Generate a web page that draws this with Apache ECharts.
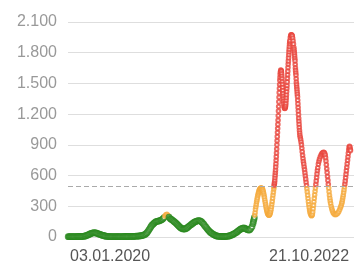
<!DOCTYPE html>
<html>
<head>
<meta charset="utf-8">
<script src="https://cdn.jsdelivr.net/npm/echarts@6/dist/echarts.min.js"></script>
<style>html,body{margin:0;padding:0;background:#fff}#c{width:354px;height:266px}</style>
</head>
<body>
<div id="c"></div>
<script>
// Each point: [days since 03.01.2020, value]
var points = [
[-215,3],[-210,3],[-205,3],[-200,3],[-195,3],[-190,3],[-185,3],[-180,3],[-174,3],[-169,4],[-164,5],[-159,5],[-154,5],[-149,5],[-144,5],[-139,6],[-133,8],[-128,10],[-123,12],[-118,16],[-113,20],[-108,25],[-103,30],[-97,34],[-92,38],[-87,40],[-82,42],[-77,41],[-72,40],[-67,36],[-62,32],[-56,28],[-51,25],[-46,21],[-41,18],[-36,15],[-31,12],[-26,10],[-21,8],[-15,6],[-10,5],[-5,4],
[0,4],[5,4],[10,4],[15,4],[21,4],[26,4],[31,4],[36,4],[41,4],[46,4],[51,4],[56,4],[62,4],[67,4],[72,5],[77,5],[82,5],[87,5],[92,5],[97,5],[103,6],[108,6],[113,6],[118,6],[123,7],[128,7],[133,8],[139,8],[144,9],[149,10],[154,11],[159,12],[164,14],[169,16],[174,20],[180,25],[185,32],[190,42],[195,55],[200,70],[205,85],[210,100],[215,115],[221,125],[226,135],[231,143],[236,150],[241,153],[246,155],[251,157],[257,160],[262,165],[267,170],[272,178],[277,190],[282,205],[287,218],[292,222],[298,210],[303,195],[308,180],[313,174],[318,168],[323,160],[328,152],[333,144],[339,135],[344,125],[349,115],[354,105],[359,95],[364,88],[369,82],[375,79],[380,78],[385,79],[390,82],[395,88],[400,95],[405,104],[410,112],[416,120],[421,128],[426,135],[431,142],[436,148],[441,152],[446,156],[452,160],[457,160],[462,158],[467,152],[472,145],[477,134],[482,122],[487,108],[493,95],[498,82],
[503,70],[508,60],[513,50],[518,42],[523,35],[529,28],[534,22],[539,16],[544,12],[549,10],[554,8],[559,7],[564,6],[570,5],[575,5],[580,5],[585,5],[590,5],[595,6],[600,7],[605,8],[611,10],[616,12],[621,16],[626,20],[631,25],[636,30],[641,36],[647,42],[652,50],[657,57],[662,65],[667,72],[672,78],[677,82],[682,86],[688,88],[693,84],[698,80],[703,74],[708,70],[713,68],[718,70],[723,82],[729,100],[734,130],[736,150],
[739,170],[741,190],[743,215],[745,240],[747,270],[749,295],[751,320],[753,345],[755,365],[757,385],[759,405],[761,420],[763,435],[765,448],[767,458],[769,466],[771,472],[773,476],[775,478],[777,478],[779,476],[781,472],[783,465],[785,455],[787,442],[789,425],[791,405],[793,385],[795,362],[797,340],[799,318],[801,296],[803,275],[805,258],[807,243],[809,232],[811,224],[813,218],[815,215],[817,215],[819,218],[821,225],[823,236],[825,252],[827,272],[829,295],[831,322],[833,350],[835,380],[837,410],[839,440],[841,470],[842,490],
[843,505],[844,520],[845,535],[846,555],[847,580],[848,605],[849,630],[850,655],[851,685],[852,715],[853,750],[854,785],[855,820],[856,860],[857,900],[858,940],[859,980],[860,1020],[861,1060],[862,1100],[863,1140],[864,1185],[865,1230],[866,1275],[867,1320],[868,1365],[869,1410],[870,1450],[871,1490],[872,1530],[873,1560],[874,1590],[875,1610],[877,1630],[879,1625],
[880,1615],[881,1595],[882,1570],[883,1545],[884,1515],[885,1490],[886,1460],[887,1430],[888,1400],[889,1375],[890,1350],[891,1325],[892,1300],[894,1272],[896,1258],[898,1255],[900,1265],
[901,1275],[902,1290],[903,1310],[904,1335],[905,1360],[906,1390],[907,1420],[908,1450],[909,1480],[910,1515],[911,1550],[912,1585],[913,1620],[914,1655],[915,1690],[916,1720],[917,1750],[918,1780],[919,1810],[920,1835],[921,1860],[922,1885],[923,1905],[924,1920],[926,1948],[928,1966],[930,1975],[932,1975],[934,1971],
[936,1962],[938,1942],[940,1915],[942,1884],[944,1850],[945,1830],[946,1810],[947,1790],[948,1767],[949,1744],[950,1720],[951,1685],[952,1650],[953,1625],[954,1602],[955,1580],[956,1545],[957,1510],[958,1487],[959,1463],[960,1440],[961,1417],[962,1393],[963,1370],[964,1335],[965,1300],[966,1265],[967,1230],[968,1195],[969,1160],[970,1130],[971,1100],[972,1070],[973,1040],[974,1015],[975,992],
[977,972],[979,952],[981,928],[983,900],[985,867],[987,833],[989,798],[991,767],[993,738],[995,712],[997,684],[999,656],[1001,626],[1003,596],[1005,565],[1007,535],[1009,503],[1011,471],[1013,439],[1015,407],[1017,375],[1019,345],[1021,315],[1023,287],[1025,264],[1027,245],[1029,230],[1032,215],[1035,208],[1037,212],
[1039,222],[1041,245],[1043,277],[1045,311],[1047,345],[1049,379],[1051,413],[1053,447],[1055,480],[1057,514],[1059,548],[1061,582],[1063,617],[1065,650],[1067,677],[1070,712],[1073,740],[1076,762],[1080,784],[1084,801],[1088,814],[1092,823],[1096,828],[1100,825],[1103,813],
[1105,797],[1107,773],[1109,742],[1111,705],[1113,667],[1115,629],[1117,591],[1119,553],[1121,515],[1123,478],[1125,442],[1127,408],[1129,377],[1131,350],[1133,327],[1136,297],[1139,275],[1142,256],[1146,238],[1150,227],[1155,220],[1160,220],[1165,224],
[1170,235],[1175,250],[1180,270],[1184,290],[1187,307],[1190,328],[1192,345],[1194,366],[1196,388],[1198,410],[1200,436],[1202,462],[1204,490],[1206,518],[1208,548],[1210,580],[1212,614],[1214,648],[1216,682],[1218,716],[1220,750],[1222,784],[1224,818],[1226,850],[1228,875],[1230,885],[1232,877],[1234,857],[1235,845]
];
var yTicks = [0,300,600,900,1200,1500,1800,2100];
var xLabelDays = [0,1022];
var xLabels = ['03.01.2020','21.10.2022'];
var threshold = 500;
var levels = [200,500];

var chart = echarts.init(document.getElementById('c'));
chart.setOption({
  animation:false,
  grid:{left:68,right:0,top:22,bottom:29},
  xAxis:{type:'value',min:-216,max:1253,
    axisLine:{show:false},axisTick:{show:false},splitLine:{show:false},
    axisLabel:{customValues:xLabelDays,color:'#555',fontSize:16,fontFamily:'Liberation Sans',margin:12,
      formatter:function(v){var i=xLabelDays.indexOf(v);return i>=0?xLabels[i]:'';}}},
  yAxis:{type:'value',min:yTicks[0],max:yTicks[yTicks.length-1],interval:300,
    axisLine:{show:false},axisTick:{show:false},
    splitLine:{lineStyle:{color:'#dedede',width:1}},
    axisLabel:{color:'#999',fontSize:16,fontFamily:'Liberation Sans',margin:11,
      formatter:function(v){return String(v).replace(/\B(?=(\d{3})+(?!\d))/g,'.');}}},
  visualMap:{show:false,type:'piecewise',dimension:1,
    pieces:[{lt:levels[0],color:'#2b8a1f',symbolSize:4.8},
            {gte:levels[0],lt:levels[1],color:'#f5aa3c',symbolSize:3.6},
            {gte:levels[1],color:'#e8463d',symbolSize:3.6}]},
  series:[{type:'scatter',data:points,symbol:'emptyCircle',symbolSize:3.6,
    itemStyle:{borderWidth:1.8},
    markLine:{silent:true,symbol:'none',label:{show:false},
      lineStyle:{color:'#aaa',type:[5,3],width:1},data:[{yAxis:threshold}]}}]
});
</script>
</body>
</html>
